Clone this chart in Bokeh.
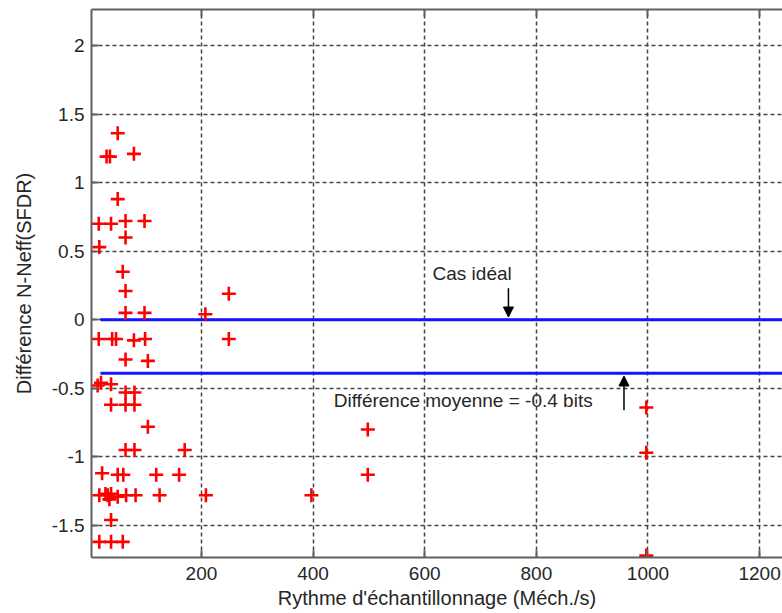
from bokeh.plotting import figure
from bokeh.models import Range1d, LinearAxis, FixedTicker, Arrow, NormalHead, Label, ColumnDataSource
from bokeh.embed import file_html
from bokeh.resources import INLINE

# Sampling rate (Méch./s) and difference N - Neff(SFDR)
rate = [50, 30, 36, 79, 50, 16, 38, 64, 98, 64, 17, 59, 64, 64, 98, 207, 249, 249,
        16, 40, 47, 79, 99, 64, 104, 14, 20, 38, 64, 80, 64, 80, 38, 104, 64, 80, 170,
        498, 498, 997, 997, 997, 22, 50, 60, 119, 160, 17, 32, 38, 50, 65, 82, 125,
        208, 397, 38, 17, 38, 59, 35, 28]
diff = [1.36, 1.19, 1.19, 1.21, 0.88, 0.70, 0.70, 0.72, 0.72, 0.60, 0.53, 0.35, 0.21,
        0.05, 0.05, 0.04, 0.19, -0.14, -0.14, -0.14, -0.14, -0.15, -0.14, -0.29, -0.30,
        -0.48, -0.46, -0.47, -0.53, -0.53, -0.62, -0.62, -0.62, -0.78, -0.95, -0.95,
        -0.95, -0.80, -1.13, -0.64, -0.97, -1.72, -1.12, -1.13, -1.13, -1.13, -1.13,
        -1.28, -1.28, -1.27, -1.29, -1.28, -1.28, -1.28, -1.28, -1.28, -1.46, -1.62,
        -1.62, -1.62, -1.31, -1.27]

ideal_y = 0.0
mean_y = -0.39
line_x = [19, 1260]

x_ticks = [200, 400, 600, 800, 1000, 1200]
y_ticks = [-1.5, -1, -0.5, 0, 0.5, 1, 1.5, 2]
y_tick_labels = ["-1.5", "-1", "-0.5", "0", "0.5", "1", "1.5", "2"]

FONT = "Liberation Sans"
TXT = "#262626"

p = figure(width=782, height=613, output_backend="svg", toolbar_location=None,
           x_range=Range1d(3, 1241), y_range=Range1d(-1.734, 2.263),
           min_border_left=91, min_border_right=0, min_border_top=9, min_border_bottom=56,
           background_fill_color="white", border_fill_color="white")
p.outline_line_color = None

for ax in (p.xaxis[0], p.yaxis[0]):
    ax.axis_line_color = "#606060"
    ax.axis_line_width = 2
    ax.major_tick_in = 7
    ax.major_tick_out = 0
    ax.major_tick_line_color = "#606060"
    ax.major_tick_line_width = 2
    ax.minor_tick_line_color = None
    ax.major_label_text_font = FONT
    ax.major_label_text_font_size = "19px"
    ax.major_label_text_color = TXT
    ax.axis_label_text_font = FONT
    ax.axis_label_text_font_size = "20px"
    ax.axis_label_text_font_style = "normal"
    ax.axis_label_text_color = TXT

p.xaxis.ticker = FixedTicker(ticks=x_ticks)
p.yaxis.ticker = FixedTicker(ticks=y_ticks)
p.yaxis.major_label_overrides = {t: l for t, l in zip(y_ticks, y_tick_labels)}
p.xaxis.axis_label = "Rythme d'échantillonnage (Méch./s)"
p.yaxis.axis_label = "Différence N-Neff(SFDR)"
p.xaxis.major_label_standoff = 9
p.yaxis.major_label_standoff = 7
p.xaxis.axis_label_standoff = 4
p.yaxis.axis_label_standoff = 14

# top box edge with inward ticks (no labels)
top = LinearAxis(ticker=FixedTicker(ticks=x_ticks), axis_line_color="#606060", axis_line_width=2,
                 major_tick_in=7, major_tick_out=0, major_tick_line_color="#606060",
                 major_tick_line_width=2, minor_tick_line_color=None,
                 major_label_text_color=None, major_label_text_font_size="1px",
                 major_label_standoff=0,
                 major_label_overrides={t: "" for t in x_ticks})
p.add_layout(top, "above")

for g in (p.xgrid[0], p.ygrid[0]):
    g.grid_line_color = "#454545"
    g.grid_line_width = 1.5
    g.grid_line_dash = "4 3"
p.xgrid.ticker = FixedTicker(ticks=x_ticks)
p.ygrid.ticker = FixedTicker(ticks=y_ticks)

p.line(line_x, [ideal_y, ideal_y], color="#1414ff", line_width=3)
p.line(line_x, [mean_y, mean_y], color="#1414ff", line_width=3)

src = ColumnDataSource(dict(x=rate, y=diff))
p.scatter("x", "y", source=src, marker="cross", size=14, line_width=2.6, color="#ff0000")

p.add_layout(Arrow(end=NormalHead(size=10, fill_color="black", line_color="black"),
                   x_start=750, y_start=0.23, x_end=750, y_end=0.02,
                   line_color="black", line_width=1.5))
p.add_layout(Arrow(end=NormalHead(size=10, fill_color="black", line_color="black"),
                   x_start=957, y_start=-0.66, x_end=957, y_end=-0.41,
                   line_color="black", line_width=1.5))

p.add_layout(Label(x=614, y=0.336, text="Cas idéal", text_font=FONT, text_font_size="19px",
                   text_color=TXT, text_baseline="middle"))
p.add_layout(Label(x=437, y=-0.59, text="Différence moyenne = -0.4 bits", text_font=FONT,
                   text_font_size="19px", text_color=TXT, text_baseline="middle"))

open("out.html", "w").write(file_html(p, INLINE))
